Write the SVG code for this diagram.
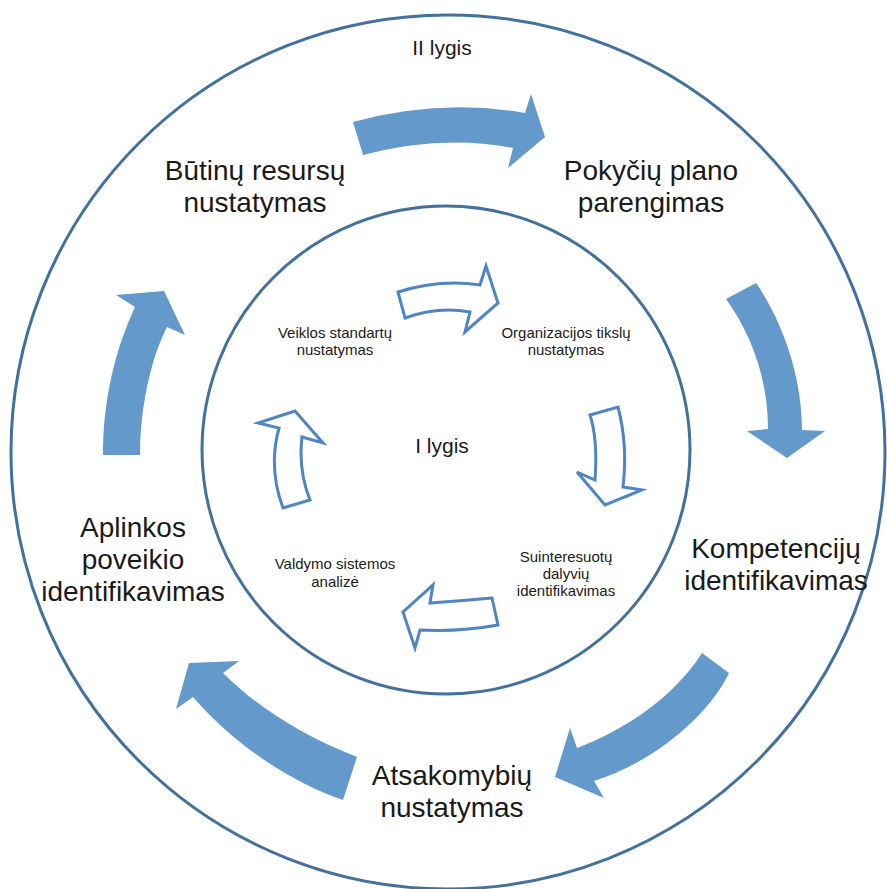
<svg xmlns="http://www.w3.org/2000/svg" width="887" height="889" viewBox="0 0 887 889">
  <style>
    .ring { fill: none; stroke: #41719c; stroke-width: 3; }
    .big { fill: #6399cb; stroke: none; }
    .small { fill: #ffffff; stroke: #4f85c0; stroke-width: 3; stroke-linejoin: miter; }
    .lbl { font-family: "Liberation Sans", Arial, sans-serif; fill: #1a1a1a; text-anchor: middle; }
    .outer { font-size: 28px; }
    .inner { font-size: 15px; }
    .level { font-size: 21px; }
  </style>

  <rect width="887" height="889" fill="#ffffff"/>

  <!-- level rings -->
  <g id="rings">
    <circle id="ring-outer" class="ring" cx="448" cy="452" r="437"/>
    <circle id="ring-inner" class="ring" cx="446" cy="450" r="244"/>
  </g>

  <!-- cycle arrows -->
  <g id="connectors">
    <g id="outer-cycle">
      <path class="big" d="M353,122 Q441,98 525,113 L531,94 L545,137 L508,168 L513,148 Q442,134 363,155 Z"/>
      <path class="big" d="M756,283 C785,325 802,380 802,430 L825,431 L787,458 L747,431 L768,429 C768,380 752,335 726,299 Z"/>
      <path class="big" d="M702,653 L729,673 C712,710 660,760 594,781 L604,798 L555,777 L570,728 L577,748 C620,732 672,700 702,653 Z"/>
      <path class="big" d="M357,757 C300,735 255,705 223,673 L239,661 L189,663 L176,709 L193,697 C230,740 285,780 343,800 Z"/>
      <path class="big" d="M103,455 C103,400 115,350 135,307 L116,295 L164,291 L185,335 L167,327 C150,360 140,410 140,455 Z"/>
    </g>
    <g id="inner-cycle">
      <path class="small" d="M398,292 Q440,279 480,285 L486,266 L498,303 L465,332 L470,312 Q438,306 405,318 Z"/>
      <path class="small" d="M590,415 L618,407 Q628,445 623,487 L642,490 L605,505 L577,472 L595,480 Q598,440 590,415 Z"/>
      <path class="small" d="M492,598 Q460,601 430,603 L433,585 L403,612 L415,648 L420,630 Q460,632 498,625 Z"/>
      <path class="small" d="M283,508 Q268,468 279,428 L258,423 L295,411 L323,443 L302,437 Q298,470 310,500 Z"/>
    </g>
  </g>

  <!-- level titles -->
  <g id="level-2"><text class="lbl level" x="442" y="55">II lygis</text></g>
  <g id="level-1"><text class="lbl level" x="442" y="453">I lygis</text></g>

  <!-- level II steps -->
  <g id="butinu-resursu">
    <text class="lbl outer" x="255" y="180">Būtinų resursų</text>
    <text class="lbl outer" x="255" y="212">nustatymas</text>
  </g>
  <g id="pokyciu-plano">
    <text class="lbl outer" x="651" y="180">Pokyčių plano</text>
    <text class="lbl outer" x="651" y="212">parengimas</text>
  </g>
  <g id="kompetenciju">
    <text class="lbl outer" x="776" y="558">Kompetencijų</text>
    <text class="lbl outer" x="776" y="590">identifikavimas</text>
  </g>
  <g id="atsakomybiu">
    <text class="lbl outer" x="452" y="785">Atsakomybių</text>
    <text class="lbl outer" x="452" y="817">nustatymas</text>
  </g>
  <g id="aplinkos-poveikio">
    <text class="lbl outer" x="133" y="537">Aplinkos</text>
    <text class="lbl outer" x="133" y="569">poveikio</text>
    <text class="lbl outer" x="133" y="601">identifikavimas</text>
  </g>

  <!-- level I steps -->
  <g id="veiklos-standartu">
    <text class="lbl inner" x="335" y="338">Veiklos standartų</text>
    <text class="lbl inner" x="335" y="355">nustatymas</text>
  </g>
  <g id="organizacijos-tikslu">
    <text class="lbl inner" x="566" y="338">Organizacijos tikslų</text>
    <text class="lbl inner" x="566" y="355">nustatymas</text>
  </g>
  <g id="suinteresuotu-dalyviu">
    <text class="lbl inner" x="566" y="562">Suinteresuotų</text>
    <text class="lbl inner" x="566" y="579">dalyvių</text>
    <text class="lbl inner" x="566" y="596">identifikavimas</text>
  </g>
  <g id="valdymo-sistemos">
    <text class="lbl inner" x="335" y="569">Valdymo sistemos</text>
    <text class="lbl inner" x="335" y="587">analizė</text>
  </g>
</svg>
